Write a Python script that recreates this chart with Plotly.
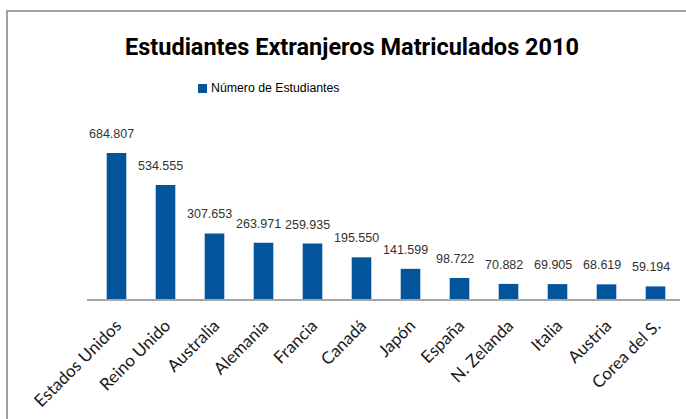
import plotly.graph_objects as go

categories = ["Estados Unidos", "Reino Unido", "Australia", "Alemania", "Francia", "Canadá",
              "Japón", "España", "N. Zelanda", "Italia", "Austria", "Corea del S."]
values = [684807, 534555, 307653, 263971, 259935, 195550, 141599, 98722, 70882, 69905, 68619, 59194]
labels = ["684.807", "534.555", "307.653", "263.971", "259.935", "195.550",
          "141.599", "98.722", "70.882", "69.905", "68.619", "59.194"]
series_name = "Número de Estudiantes"

W, H = 686, 419
L, R, T, B = 87, 6, 120, 120
plot_w = W - L - R
plot_h = H - T - B

def px_x(p):
    return (p - L) / plot_w

def px_y(p):
    return (H - B - p) / plot_h

fig = go.Figure()
fig.add_trace(go.Bar(
    x=categories, y=values, name=series_name,
    marker=dict(color="#03559b", line=dict(width=0)),
    showlegend=False, hoverinfo="x+y",
))

for c, v, t in zip(categories, values, labels):
    fig.add_annotation(x=c, y=v, text=t, showarrow=False, yanchor="bottom", yshift=10, xshift=-5,
                       font=dict(family="Liberation Sans, sans-serif", size=12.5, color="#333333"))

# outer chart border (cropped at right/bottom)
fig.add_shape(type="rect", xref="paper", yref="paper",
              x0=px_x(7), x1=1.2, y0=-1.0, y1=px_y(11),
              line=dict(color="#a0a0a0", width=2), fillcolor="rgba(0,0,0,0)", layer="below")

# legend (custom, compact like the original)
fig.add_shape(type="rect", xref="paper", yref="paper",
              x0=px_x(198), x1=px_x(207), y0=px_y(93), y1=px_y(84),
              line=dict(width=0), fillcolor="#03559b")
fig.add_annotation(xref="paper", yref="paper", x=px_x(209), y=px_y(88), xanchor="left",
                   yanchor="middle", text=series_name, showarrow=False,
                   font=dict(family="Liberation Sans, sans-serif", size=12.3, color="#000000"))

fig.update_layout(
    width=W, height=H,
    margin=dict(l=L, r=R, t=T, b=B, pad=0),
    paper_bgcolor="white", plot_bgcolor="white",
    bargap=0.6,
    showlegend=False,
    title=dict(text="<b>Estudiantes Extranjeros Matriculados 2010</b>",
               x=352 / W, xanchor="center", y=1 - 47 / H, yanchor="middle",
               font=dict(family="Roboto, Liberation Sans, sans-serif", size=23.5, color="#000000")),
    xaxis=dict(showline=True, linecolor="#a6a6a6", linewidth=2, ticks="", tickangle=-45,
               tickfont=dict(family="Lato, Open Sans, sans-serif", size=17, color="#1a1a1a"),
               ticklabelstandoff=8,
               showgrid=False, zeroline=False, automargin=False),
    yaxis=dict(range=[0, 840000], visible=False, showgrid=False, zeroline=False, automargin=False),
)

fig.write_html("out.html", config={"displayModeBar": False},
               post_script="document.body.style.margin='0';")
